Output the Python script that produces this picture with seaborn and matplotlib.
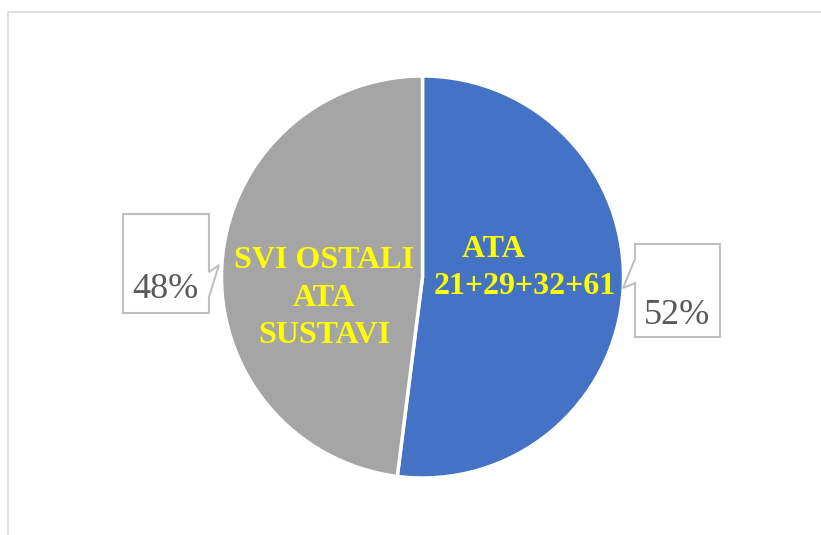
import matplotlib
matplotlib.use('Agg')
import matplotlib.pyplot as plt
from matplotlib.patches import Polygon, Rectangle
import seaborn as sns

# chart data
labels = ['ATA        \n21+29+32+61', 'SVI OSTALI\nATA\nSUSTAVI']
values = [52, 48]
colors = ['#4472C4', '#A5A5A5']

sns.set_theme(style='white')
plt.rcParams['font.family'] = ['Liberation Serif', 'DejaVu Serif']

W, H = 821, 535
fig = plt.figure(figsize=(W / 100, H / 100), dpi=100)
ax = fig.add_axes([0, 0, 1, 1])
ax.set_xlim(0, W)
ax.set_ylim(0, H)
ax.set_aspect('equal')
ax.axis('off')

# outer chart frame (cut off on the right and bottom)
ax.add_patch(Rectangle((8, -10), W + 20, H - 12 + 10, fill=False,
                       edgecolor='#D9D9D9', lw=1.2))

cx, cy, r = 422.5, H - 277, 201
wedges, _ = ax.pie(values, colors=colors, startangle=90, counterclock=False,
                   center=(cx, cy), radius=r, frame=True,
                   wedgeprops=dict(edgecolor='white', linewidth=2.5))
ax.set_xlim(0, W)
ax.set_ylim(0, H)
ax.axis('off')

# in-slice labels (pixel positions, y from top)
label_pos = [(525, 268), (324, 298)]
for lab, (x, y) in zip(labels, label_pos):
    ax.text(x, H - y, lab, ha='center', va='center', color='#FFFF00',
            fontsize=23, fontweight='bold', linespacing=1.37,
            multialignment='center')

# callout boxes with percentages
callouts = [
    [(123, 214), (209, 214), (209, 272), (219, 265), (209, 297), (209, 313), (123, 313)],
    [(635, 244), (720, 244), (720, 337), (635, 337), (635, 283), (623, 288), (635, 259)],
]
pct_pos = [(165, 290), (677, 316)]
for pts, v, (x, y) in zip(callouts, values[::-1], pct_pos):
    ax.add_patch(Polygon([(px, H - py) for px, py in pts], closed=True,
                         facecolor='white', edgecolor='#BFBFBF', lw=1.5, zorder=3))
    ax.text(x, H - y, f'{v}%', ha='center', va='center', color='#595959',
            fontsize=26, zorder=4)

fig.savefig('out.png', dpi=100)
